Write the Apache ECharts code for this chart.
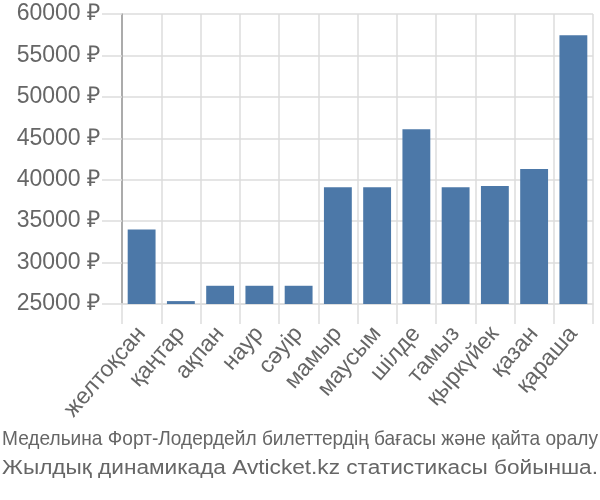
<!DOCTYPE html>
<html>
<head>
<meta charset="utf-8">
<script src="https://cdn.jsdelivr.net/npm/echarts@6/dist/echarts.min.js"></script>
<style>html,body{margin:0;padding:0;background:#fff}#c{width:600px;height:500px}</style>
</head>
<body>
<div id="c"></div>
<script>
var categories = ['желтоқсан','қаңтар','ақпан','наур','сәуір','мамыр','маусым','шілде','тамыз','қыркүйек','қазан','қараша'];
var prices = [34000, 25350, 27200, 27200, 27200, 39100, 39100, 46100, 39100, 39250, 41300, 57450];
var yTicks = [25000, 30000, 35000, 40000, 45000, 50000, 55000, 60000];
var titleLines = ['Медельина Форт-Лодердейл билеттердің бағасы және қайта оралу', 'Жылдық динамикада Avticket.kz статистикасы бойынша.'];

var FONT = 'Liberation Sans';
var chart = echarts.init(document.getElementById('c'), null, {renderer: 'canvas'});

var cv = document.createElement('canvas').getContext('2d');
function fitScale(text, font, w) { cv.font = font; return w / cv.measureText(text).width; }
var f1 = '21px "' + FONT + '"';
var f2 = '20px "' + FONT + '"';

chart.setOption({
  animation: false,
  grid: {left: 122, right: 7, top: 14, bottom: 196, containLabel: false},
  xAxis: {
    type: 'category',
    data: categories,
    axisLine: {show: true, lineStyle: {color: '#dddddd', width: 1.5}},
    axisTick: {show: true, length: 20, interval: 0, lineStyle: {color: '#dddddd', width: 1.5}},
    splitLine: {show: true, interval: 0, lineStyle: {color: '#dddddd', width: 1.5}},
    axisLabel: {interval: 0, rotate: 49, margin: 26, color: '#666666', fontFamily: FONT, fontSize: 23}
  },
  yAxis: {
    type: 'value',
    min: yTicks[0],
    max: yTicks[yTicks.length - 1],
    interval: yTicks[1] - yTicks[0],
    axisLine: {show: true, lineStyle: {color: '#999999', width: 1.5}},
    axisTick: {show: true, length: 20, lineStyle: {color: '#dddddd', width: 1.5}},
    splitLine: {show: true, lineStyle: {color: '#dddddd', width: 1.5}},
    axisLabel: {margin: 22, color: '#666666', fontFamily: FONT, fontSize: 23, formatter: function (v) { return v + ' ₽'; }}
  },
  series: [{
    type: 'bar',
    data: prices,
    barCategoryGap: '29%',
    itemStyle: {color: '#4c78a8'}
  }],
  graphic: [
    {type: 'text', x: 2, y: 429, scaleX: fitScale(titleLines[0], f1, 596),
     style: {text: titleLines[0], font: f1, fill: '#666666', align: 'left', verticalAlign: 'top'}},
    {type: 'text', x: 2, y: 458, scaleX: fitScale(titleLines[1], f2, 596),
     style: {text: titleLines[1], font: f2, fill: '#666666', align: 'left', verticalAlign: 'top'}}
  ]
});
</script>
</body>
</html>
